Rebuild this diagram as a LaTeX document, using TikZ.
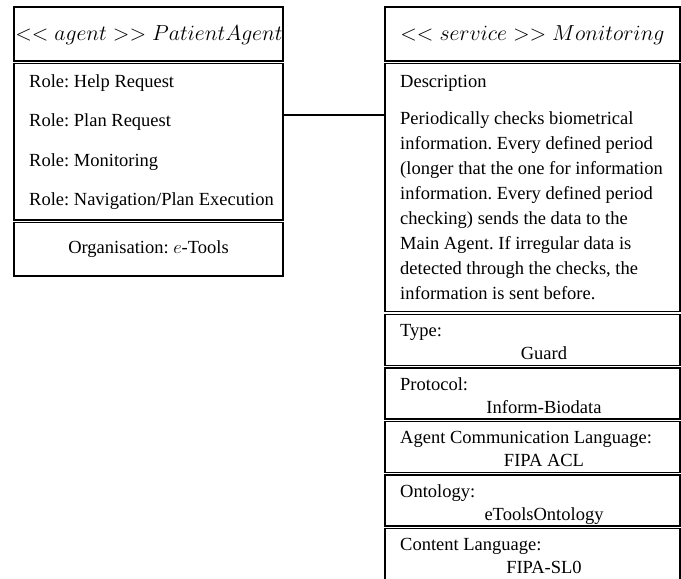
\documentclass[tikz,border=0pt]{standalone}
\usepackage{fontspec}
\setmainfont{Liberation Serif}
\frenchspacing
\tikzset{
  comp/.style={draw, line width=1.3pt, inner sep=0pt, outer sep=0pt},
  txt/.style={inner sep=0pt, font=\fontsize{18.5}{22}\selectfont},
  hdr/.style={inner sep=0pt, font=\fontsize{20.74}{26}\selectfont},
  link/.style={line width=1.3pt}
}
\begin{document}
\begin{tikzpicture}[x=1pt,y=-1pt]
\useasboundingbox (0,0) rectangle (681,579);
\clip (0,0) rectangle (681,579);
% left class
\node[comp, minimum width=269pt, minimum height=54pt] (lh) at (148.5,34) {};
\node[comp, minimum width=269pt, minimum height=156.5pt] (lr) at (148.5,141.75) {};
\node[comp, minimum width=269pt, minimum height=53.5pt] (lo) at (148.5,249.25) {};
\node[hdr, anchor=base] (lht) at (149,40) {\scalebox{1.05}{$<<agent>>PatientAgent$}};
\node[txt, anchor=base west] (r1) at (29,87) {Role: Help Request};
\node[txt, anchor=base west] (r2) at (29,126) {Role: Plan Request};
\node[txt, anchor=base west] (r3) at (29,166) {Role: Monitoring};
\node[txt, anchor=base west] (r4) at (29,205) {Role: Navigation/Plan Execution};
\node[txt, anchor=base] (org) at (148.5,253) {Organisation: \scalebox{1.07}{$e$}-Tools};
% right class
\node[comp, minimum width=295pt, minimum height=54pt] (rh) at (532.5,34) {};
\node[comp, minimum width=295pt, minimum height=248pt] (rd) at (532.5,187.5) {};
\node[comp, minimum width=295pt, minimum height=51pt] (rt) at (532.5,340) {};
\node[comp, minimum width=295pt, minimum height=51pt] (rp) at (532.5,393.5) {};
\node[comp, minimum width=295pt, minimum height=51pt] (ra) at (532.5,447) {};
\node[comp, minimum width=295pt, minimum height=51pt] (ro) at (532.5,500.5) {};
\node[comp, minimum width=295pt, minimum height=71.5pt] (rc) at (532.5,564.25) {};
\node[hdr, anchor=base] (rht) at (532.5,40) {\scalebox{1.05}{$<<service>>Monitoring$}};
\node[txt, anchor=base west] (dd) at (400,87) {Description};
\node[txt, anchor=base west] (p1) at (400,124) {Periodically checks biometrical};
\node[txt, anchor=base west] (p2) at (400,149) {information. Every defined period};
\node[txt, anchor=base west] (p3) at (400,174) {(longer that the one for information};
\node[txt, anchor=base west] (p4) at (400,199) {information. Every defined period};
\node[txt, anchor=base west] (p5) at (400,224) {checking) sends the data to the};
\node[txt, anchor=base west] (p6) at (400,249) {Main Agent. If irregular data is};
\node[txt, anchor=base west] (p7) at (400,274) {detected through the checks, the};
\node[txt, anchor=base west] (p8) at (400,299) {information is sent before.};
\node[txt, anchor=base west] (t1) at (400,336.5) {Type:};
\node[txt, anchor=base] (t2) at (544,359.5) {Guard};
\node[txt, anchor=base west] (q1) at (400,390) {Protocol:};
\node[txt, anchor=base] (q2) at (544,413) {Inform-Biodata};
\node[txt, anchor=base west] (a1) at (400,443.5) {Agent Communication Language:};
\node[txt, anchor=base] (a2) at (544,466.5) {FIPA ACL};
\node[txt, anchor=base west] (o1) at (400,497) {Ontology:};
\node[txt, anchor=base] (o2) at (544,520) {eToolsOntology};
\node[txt, anchor=base west] (c1) at (400,550.5) {Content Language:};
\node[txt, anchor=base] (c2) at (544,573.5) {FIPA-SL0};
% connector
\path ([yshift=-51.5pt]lr.north east) coordinate (ca);
\draw[link] (ca) -- (ca -| rd.west);
\end{tikzpicture}
\end{document}
